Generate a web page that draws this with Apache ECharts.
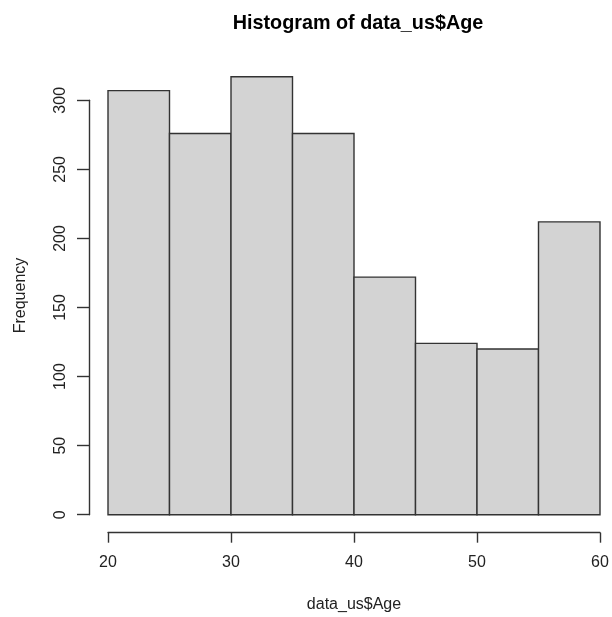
<!DOCTYPE html>
<html>
<head>
<meta charset="utf-8">
<script src="https://cdn.jsdelivr.net/npm/echarts@6/dist/echarts.min.js"></script>
<style>
  html, body { margin: 0; padding: 0; background: #fff; }
  #chart { width: 612px; height: 617px; }
</style>
</head>
<body>
<div id="chart"></div>
<script>
// Histogram bins of age (5-year breaks) and their counts
const binStarts = [20, 25, 30, 35, 40, 45, 50, 55];
const binWidth = 5;
const counts = [307, 276, 317, 276, 172, 124, 120, 212];

// Axis ticks
const xTicks = [20, 30, 40, 50, 60];
const yTicks = [0, 50, 100, 150, 200, 250, 300];

const font = '"Liberation Sans", Arial, sans-serif';
const ink = '#222';

const chart = echarts.init(document.getElementById('chart'));

chart.setOption({
  animation: false,
  backgroundColor: '#ffffff',
  title: {
    text: 'Histogram of data_us$Age',
    left: 353,
    textAlign: 'center',
    top: 9,
    textStyle: { fontFamily: font, fontSize: 19.8, fontWeight: 'bold', color: '#000' }
  },
  grid: {
    left: 108, right: 12, top: 100.3, bottom: 102.3,
    containLabel: false,
    outerBoundsMode: 'none'
  },
  xAxis: {
    type: 'value',
    min: xTicks[0],
    max: xTicks[xTicks.length - 1],
    interval: 10,
    offset: 18,
    name: 'data_us$Age',
    nameLocation: 'middle',
    nameGap: 64,
    nameTextStyle: { fontFamily: font, fontSize: 16, color: ink },
    splitLine: { show: false },
    axisLine: { show: true, onZero: false, lineStyle: { color: '#333', width: 1.4 } },
    axisTick: { show: true, length: 10, lineStyle: { color: '#333', width: 1.4 } },
    axisLabel: {
      margin: 22, fontFamily: font, fontSize: 16, color: ink,
      showMinLabel: true, showMaxLabel: true
    }
  },
  yAxis: {
    type: 'value',
    min: yTicks[0],
    max: yTicks[yTicks.length - 1],
    interval: 50,
    offset: 19,
    name: 'Frequency',
    nameLocation: 'middle',
    nameRotate: 90,
    nameGap: 60,
    nameTextStyle: { fontFamily: font, fontSize: 16, color: ink, padding: [0, 0, 0, 24] },
    splitLine: { show: false },
    axisLine: { show: true, onZero: false, lineStyle: { color: '#333', width: 1.4 } },
    axisTick: { show: true, length: 12, lineStyle: { color: '#333', width: 1.4 } },
    axisLabel: {
      rotate: 90, margin: 20, fontFamily: font, fontSize: 16, color: ink,
      showMinLabel: true, showMaxLabel: true
    }
  },
  series: [{
    type: 'custom',
    clip: false,
    data: binStarts.map((s, i) => [s, s + binWidth, counts[i]]),
    encode: { x: [0, 1], y: 2 },
    renderItem: function (params, api) {
      const p0 = api.coord([api.value(0), api.value(2)]);
      const p1 = api.coord([api.value(1), 0]);
      return {
        type: 'rect',
        shape: { x: p0[0], y: p0[1], width: p1[0] - p0[0], height: p1[1] - p0[1] },
        style: { fill: '#d3d3d3', stroke: '#333', lineWidth: 1.4 }
      };
    }
  }]
});
</script>
</body>
</html>
